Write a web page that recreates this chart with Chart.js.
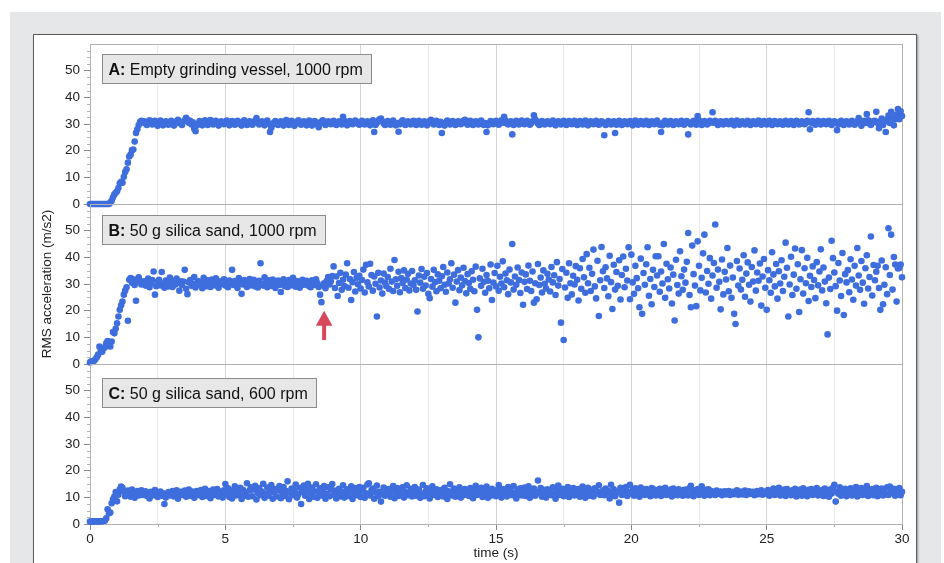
<!DOCTYPE html>
<html>
<head>
<meta charset="utf-8">
<script src="https://cdn.jsdelivr.net/npm/chart.js@4.4.1/dist/chart.umd.min.js"></script>
<style>
  html, body { margin: 0; padding: 0; background: #fff; width: 944px; height: 563px; overflow: hidden; }
  #backdrop { position: absolute; left: 10px; top: 12px; width: 931px; height: 560px; background: #e6e7e8; }
  #card { position: absolute; left: 33px; top: 34px; width: 882px; height: 540px; background: #fff;
          border: 1px solid #5c5c5c; box-shadow: 1px 1px 2px rgba(0,0,0,0.35); }
  canvas { position: absolute; left: 0; top: 0; }
</style>
</head>
<body>
<div id="backdrop"></div>
<div id="card"></div>
<canvas id="panelA" width="944" height="563"></canvas>
<canvas id="panelB" width="944" height="563"></canvas>
<canvas id="panelC" width="944" height="563"></canvas>
<script>
// Sampling rates (samples per second) of the three recordings
const rateA = 20;
const rateB = 20;
const rateC = 20;

// A: empty grinding vessel, 1000 rpm — RMS acceleration (m/s2), one row per second
const accelA = [
  0,0,0,0,0,0,0,0,0,0,0,0,0,0,0,0.5,1.2,2.5,3.6,4.2,
  4.8,6,7.8,8.3,8,10.2,12,13,15.5,17.8,18.5,20.2,20.4,23.4,26.6,28,29.6,30.8,31.2,30.6,
  31,30.2,29.6,30.8,31.4,30.4,29.8,30.9,31.2,30,29.3,30.5,31.3,30.7,29.5,30.2,31,30.6,29.7,30.4,
  31.2,30.5,29.4,30.1,31,31.6,30.8,30.2,29.6,30.9,31.4,32.3,31.6,30.5,31.2,29.8,30.6,28.2,27.3,29.4,
  30.2,31.1,30.4,29.5,30.8,31.4,30.1,29.6,30.7,31.5,30.6,29.8,30.3,31.2,30.5,29.4,30.2,31,30.6,29.9,
  30.7,31.3,30.2,29.5,30.4,31.1,30.6,29.7,30.3,31.2,30.8,29.9,29.4,30.6,31.4,30.3,29.6,30.5,31,30.2,
  29.7,30.5,31.2,32.2,30.6,29.8,30.3,31,30.4,29.5,30.8,31.3,30.1,27,28.6,29.8,30.5,31.1,30.2,29.6,
  30.4,31,30.3,29.4,30.7,31.5,30.2,29.6,30.5,31.2,30.4,29.3,30.1,30.9,31.4,30.5,29.7,30.3,31,30.2,
  29.5,30.6,31.3,30.2,29.4,30.5,31.1,30.6,29.8,28.8,30.2,30.9,31.4,30.5,29.6,30.3,31,30.7,29.9,30.4,
  31.2,30.5,29.6,30.3,31,30.4,29.8,32.7,31.2,30.4,29.5,30.2,31.1,30.6,29.9,30.5,31.3,30.8,30.1,29.7,
  30.4,31.2,30.6,29.8,30.3,31,30.2,29.5,30.7,31.4,27,29.6,30.5,31.3,31.8,32,31,30.2,29.6,30.5,
  31.1,30.4,29.7,30.6,31.3,30.2,29.5,30.4,27.1,29.9,30.8,31.4,30.5,29.6,30.2,31,30.7,29.8,30.4,31.2,
  30.3,29.6,30.5,31.2,30.6,29.7,30.3,31,30.4,29.5,30.2,31.1,31.6,30.5,29.8,30.4,31.2,30.3,29.6,30.8,
  26.6,30.2,29.4,30.5,31.3,30.6,29.8,30.3,31.1,30.5,29.6,30.2,31,30.7,29.9,30.4,31.2,31.6,30.4,29.7,
  30.5,31.2,30.4,29.6,30.3,31,30.6,29.8,30.2,31.3,30.5,29.6,30.4,27,29.5,30.3,31.1,30.6,29.9,30.5,
  31.2,30.3,29.7,30.6,31.4,30.5,32.7,31.3,30.2,29.8,30.4,31,26.1,29.6,30.5,31.2,30.3,29.8,30.6,31.3,
  30.5,29.9,30.4,31.2,30.6,29.7,30.3,31,33.3,31.8,30.9,30.2,29.6,30.5,31.1,30.4,29.8,30.3,31,30.6,
  29.9,30.5,31.3,30.2,29.5,30.4,31,30.7,29.8,30.3,31.2,30.5,29.6,30.2,31.1,30.6,29.9,30.4,31.2,30.3,
  29.6,30.5,31.1,30.4,29.8,30.6,31.3,30.2,29.5,30.4,31,30.6,29.9,30.3,31.2,30.5,29.7,30.2,31,30.6,
  25.8,29.6,30.4,31.1,30.5,29.8,30.3,31,26.6,29.7,30.5,31.2,30.4,29.6,30.2,31,30.7,29.9,30.4,31.1,
  30.3,29.5,30.6,31.3,30.4,29.7,30.3,31.1,30.6,29.8,30.4,31.2,30.5,29.6,30.2,31,30.7,29.9,30.5,31.3,
  30.4,29.7,27,29.5,30.6,31.2,30.3,29.8,30.5,31.1,30.4,29.6,30.3,31,30.6,29.9,30.2,31.2,30.5,29.7,
  30.4,31.1,26.1,30.3,29.8,30.6,31.2,30.4,29.7,33,31.4,30.2,29.6,30.5,31.1,30.3,29.8,30.4,31.2,30.6,
  34.4,30.5,31.2,30.3,29.6,30.4,31,30.5,29.8,30.3,31.1,30.6,29.9,30.4,31.2,30.2,29.5,30.6,31.3,30.4,
  29.7,30.3,31,30.6,29.8,30.4,31.2,30.5,29.6,30.2,31,30.7,29.9,30.5,31.3,30.4,29.7,30.3,31.1,30.6,
  29.8,30.5,31.2,30.3,29.6,30.4,31.1,30.6,29.9,30.3,31,30.5,29.7,30.2,31.2,30.6,29.8,30.4,31.1,30.3,
  29.6,30.5,31.2,30.4,29.8,30.3,31,30.6,29.9,30.4,31.2,34.4,28,30.5,31.1,30.3,29.7,30.5,31.2,30.4,
  29.8,30.3,31.1,30.6,29.9,30.4,31.2,30.5,29.6,30.3,31,30.7,27.7,29.8,30.5,31.2,30.4,29.6,30.3,31,
  30.6,29.8,30.4,31.2,30.5,29.7,30.3,31,32.2,30.6,29.3,30.5,31.2,30.4,33.7,31.4,30.2,29.6,30.5,31.1,
  31.2,34.6,30.4,28.4,31,32,29.6,30.8,27,31.6,33.2,30.4,34.6,32.4,29.5,31.8,33.5,35.6,31.8,34.8,
  33
];

// B: 50 g silica sand, 1000 rpm
const accelB = [
  0.6,1,0.8,1.2,1.8,2.5,3.5,6.5,5.2,4.6,5.8,6.3,7.8,8.6,7.1,6.6,8.4,12,11.5,13.2,
  15.3,17.8,20.3,22,23.4,26,27.5,28.8,16.2,31.6,32.2,30.5,31.8,29.6,23.7,30.8,32.5,31.2,29.8,30.5,
  31,29.4,30.6,32,28.8,30.3,31.5,34.7,26,29.2,30.8,31.6,29.5,34.5,30.2,28.6,31.3,30,29.1,32.4,
  30.5,28.9,31.2,29.8,32,30.4,27.5,31,29.6,30.9,35.3,28.2,26.2,30.7,31.5,29.3,30.1,32.6,28.7,30.4,
  31.1,29.7,30.5,28.4,32.3,30.8,29.2,31.4,30,28.9,31.7,30.3,29.5,32.1,30.6,28.6,31,29.9,30.7,31.8,
  29.4,30.9,28.8,31.3,30.2,35.3,29.6,31.1,30,28.5,32.2,30.7,26.3,29.8,31.5,30.4,28.9,30.6,31.9,29.5,
  30.3,31.6,29.1,30.8,28.7,31.2,37.8,30.1,29.4,32.5,30.6,28.8,31.4,30,29.3,31.7,30.5,28.5,30.9,31.3,
  29.6,27,30.4,31.8,29.2,30.7,28.9,31.5,30.2,29.5,32.3,30.8,29,31.1,30.3,28.6,30.9,31.6,29.7,30.4,
  31.2,29.4,30.6,28.8,31.4,30.1,29.6,31.8,30.4,28.9,26,23.2,29.5,30.3,28.4,31.2,32.6,29.8,31,33,
  36.6,28.5,32.8,25.5,30.4,34.2,27.8,31.6,29.2,33.5,37.8,28.6,31.9,24,30.7,34.5,27.2,32.3,29.9,33.1,
  28.3,31.5,35.4,26.8,37.2,30.6,29.1,37.6,33.4,27.5,32.8,30.1,17.8,34.2,28.7,31.3,26.4,33.9,30.5,29.2,
  32.6,28.1,35.7,30.9,27.4,39,31.8,29.3,34.6,26.9,32.2,30.4,35.1,28.5,31.7,33.8,27.6,30.2,34.9,29.6,
  31.4,27.8,19.7,33.2,30.5,35.6,28.2,32.7,29.4,34.1,26.3,24.7,31.9,29,35.3,30.7,27.3,33.6,31.2,28.4,
  32.9,36.4,29.7,27.1,34.3,30.2,31.8,37.8,28.6,33.5,23,30.9,35.2,27.7,32.4,29.5,36.1,31.1,26.5,33.7,
  30.4,28.2,34.8,31.6,27.3,36.5,20.3,10,32.1,29.3,35.7,30.8,26.7,33.4,31.2,28.4,37.3,24,30.5,34.1,
  29.1,36.8,27.5,32.7,30.2,38.5,28.8,33.9,31.4,26.2,35.4,30.6,45,27.9,32.8,29.7,36.2,31.5,26.6,34.3,
  22.2,30.8,33.6,28.1,36.9,31.2,27.4,34.7,23,30.3,24.3,37.5,29.6,32.4,26.8,35.1,30.1,28.3,33.8,31.7,
  27.2,36.4,30.6,33.3,25.9,38.2,29.4,31.9,15.5,35.6,9,28.7,34.2,24.8,37.8,30.3,26.1,33.1,29.8,36.7,
  31.6,23.8,35.9,28.2,39.4,32.5,26.7,41.2,30.3,36.1,27.4,33.8,42.9,29.1,24.6,38.7,18,31.4,43.9,34.8,
  28.5,36.3,32.1,25.4,40.6,30.7,20.6,37.2,27.9,34.5,29.3,38.9,24.2,33.4,40.3,28.8,35.7,31.3,43.8,24.3,
  41,30.6,26.3,36.8,32.2,28.4,21.3,39.5,18.8,34.1,29.7,37.4,43.8,25.6,31.9,22.4,35.3,28.9,40.4,33.2,
  40.4,27.1,34.7,30.2,45,24.8,37.6,31.8,28.3,36.2,22.7,33.5,16.3,39.1,29.6,26.4,42.3,32.9,27.8,35.4,
  30.5,38.3,49.1,25.9,21.3,44.4,33.7,29.4,21.7,46,36.8,27.6,32.3,41.5,48.5,26.8,34.9,30.1,39.7,24.5,
  33.2,37.9,52.3,28.6,35.4,30.8,20.5,39.2,26.1,34.6,31.7,43.5,27.3,36.9,24.8,32.4,18.8,15,38.6,29.4,
  35.8,27.9,31.6,40.8,25.2,33.9,38.1,29.7,23.4,36.4,30.9,42.6,27.5,34.3,31.2,37.7,21.9,32.8,39.4,28.6,
  20.3,35.2,31.4,26.7,41.9,33.6,29.1,37.5,24.5,34.8,30.2,38.9,27.4,32.7,45.5,36.1,17.8,29.8,40.2,25.9,
  33.5,43.3,28.2,37.4,19.5,31.8,42.7,26.4,35.9,30.3,39.8,23.6,33.1,28.9,36.6,31.5,24.7,38.2,29.5,34.7,
  43,27.6,36.2,30.9,22.8,11.1,32.4,28.1,46.2,39.7,34.3,29.2,20,37.9,31.3,25.5,41.6,18.4,33.7,30.6,
  35.2,26.9,39.3,31.7,24.1,36.8,29.4,43.5,33.2,27.8,38.6,30.5,22.6,35.9,40.8,28.3,32.6,47.8,25.7,37.1,
  31.4,34.6,36.8,28.5,20.3,38.8,22.4,29.7,36.3,26.2,50.9,33.4,48.5,27.9,40.1,37.3,23.4,35.8,36,37.3,
  32.5
];

// C: 50 g silica sand, 600 rpm
const accelC = [
  0.9,0.9,1,0.9,1,1,0.9,1,1,1,1.1,1.2,2.1,5.5,4,4.3,7.8,9.3,10.3,12,
  8.5,11,13,14,13.6,12.2,10.4,11.8,12.5,11.1,10.2,12.9,11.5,9.8,11.9,12.4,10.7,11.3,12.6,10.9,
  11.6,12.3,10.5,11.8,9.6,12.1,11.2,10.8,12.7,11.4,10.1,11.9,12.2,10.6,11.5,7.5,9.9,11.3,12,10.7,
  11.8,12.4,10.3,11.1,12.6,9.5,11.7,12.1,10.9,11.4,12.5,10.2,11.8,12.9,10.6,11.3,12.2,9.8,11.6,12.4,
  10.8,11.5,12.7,10.1,11.9,13.2,10.5,11.2,12.4,9.7,11.8,12.9,10.9,11.4,13.1,10.3,12.2,11.1,9.9,12.6,
  15,11.2,13.4,10.1,12.5,9.6,11.8,14.1,10.7,12.3,11,13.6,9.4,12.8,10.5,11.9,15.3,10.2,12.6,13.8,
  10.4,12.9,14.3,9.2,11.6,13.5,10.8,12.2,15.1,9.8,11.4,13.7,10.6,12.5,14.6,9.5,11.9,13.1,10.3,12.7,
  14.2,9.7,11.8,13.9,10.5,12.4,16,9.3,11.6,13.3,10.8,12.7,14.8,9.9,11.2,13.6,7.5,12.1,14.4,10.6,
  12.8,15.1,9.4,11.5,13.7,10.2,12.3,14.9,9.8,11.9,13.4,10.7,12.6,14.2,9.5,11.3,13.8,10.4,12.9,15,
  10.9,12.5,9.6,11.8,13.2,10.3,12.1,14.5,9.9,11.6,13,10.5,12.7,14.1,9.4,11.4,13.5,10.8,12.2,13.9,
  10.1,12.4,13.6,9.8,11.5,14.8,15.3,10.7,12.6,13.3,9.5,11.9,14.4,10.4,12.1,8.4,11.2,13.7,10.6,12.8,
  11.5,13.1,10.2,12.3,14.2,9.7,11.8,13.5,10.5,12.6,11.1,13.8,9.9,12,14.5,10.8,11.6,13.2,10.3,12.4,
  13.9,10.6,11.7,12.9,9.8,11.3,14.6,10.4,12.2,13.4,11,9.6,12.7,14.1,10.9,11.8,13,10.1,12.5,11.4,
  12.8,10.3,13.6,11.5,9.4,12.3,14.9,10.7,11.9,13.3,10.2,12.6,11.1,13.8,9.9,12.1,10.8,13.1,11.6,12.4,
  10.5,13.5,11.8,9.7,12.9,14.3,10.9,12.2,11.3,13.6,10.1,12.7,11.5,14,9.8,12.4,10.6,13.2,11.9,12.1,
  10.4,12.8,14.6,11.1,9.9,13.1,11.7,12.5,10.3,13.9,11.4,12.2,10.8,14.2,11.6,9.6,12.9,11,13.4,10.7,
  12.3,13.7,10.5,11.9,14.1,9.8,12.6,11.2,13.3,10.6,12.1,16.3,11.5,13.5,10.2,12.8,11.1,9.9,13,11.7,
  12.4,10.8,13.8,11.3,9.5,12.7,14.4,10.9,11.8,13.2,10.4,12.5,11.6,13.9,10.1,12.2,11,13.5,10.7,12.9,
  11.4,13.1,10.2,12.6,14,11.1,9.8,12.3,13.6,10.6,11.9,12.8,10.3,13.4,11.5,12.1,14.5,10.9,11.7,12.5,
  10.8,13.3,11.6,12.4,9.6,14.7,11.2,13,10.4,12.2,11.8,8,13.6,10.9,12.7,11.3,13.9,10.5,12,14.7,
  11.5,12.8,10.6,13.4,11.9,12.3,10.2,13.7,11.4,12.6,10.9,13.1,11.7,12.2,10.4,13.5,11.1,12.9,10.7,12.4,
  11.8,13.2,10.5,12.7,11.3,13.6,10.9,12.1,11.6,12.9,10.3,13.3,11.5,12.4,10.8,13,11.9,12.3,10.6,12.8,
  11.2,12.9,10.7,13.4,14.3,11.8,10.4,12.6,11.5,13.1,10.9,12.2,14.1,11.3,10.6,12.8,11.7,13,10.8,12.4,
  11.4,12.1,10.9,12.5,11.8,11.3,12.2,10.8,11.9,12.3,11.1,11.6,12.4,10.9,11.7,12.1,11.2,11.5,12.6,11,
  11.8,12.2,11.1,11.6,12.5,10.9,11.7,12.3,11.3,11.9,12.1,10.8,11.5,12.4,11.2,11.8,12.6,11,11.6,12.2,
  11.3,12.7,10.6,12.1,11.5,13.3,10.9,12.4,11.8,13.6,10.7,12.2,11.1,12.9,10.5,13.1,11.6,12.3,10.8,12.6,
  11.4,13.2,10.3,12.5,11.7,12.9,10.6,13.4,11.2,12,10.4,12.8,11.5,13.1,10.9,12.3,11.8,13.5,10.7,12.2,
  11.1,12.7,10.5,13.3,11.6,12.2,10.2,12.9,11.4,13.6,14.7,8.4,12.1,11.3,13.8,10.6,12.5,11.9,13.2,10.4,
  12.6,11.2,13.4,10.7,12.3,11.5,13.9,10.3,12.8,11.1,13.5,10.9,12.4,11.7,14.2,10.5,12.7,11.3,13.1,10.8,
  12.2,13.6,10.4,12.9,11.6,13.3,10.7,12.5,11.2,13.8,10.9,14,12.3,11.5,13.2,10.6,12.8,11.9,13.5,10.8,
  12.1
];

// Axis ticks
const timeTicks = [0, 2.5, 5, 7.5, 10, 12.5, 15, 17.5, 20, 22.5, 25, 27.5, 30];
const accelTicks = [0, 10, 20, 30, 40, 50];

// Panel captions
const panelTags = ['A:', 'B:', 'C:'];
const panelTitles = ['Empty grinding vessel, 1000 rpm', '50 g silica sand, 1000 rpm', '50 g silica sand, 600 rpm'];

// Red arrow in panel B: time (s) and acceleration range it spans
const arrowTime = 8.65, arrowTip = 20, arrowTail = 9;

// ---- layout ----
const W = 944, H = 563;
const PLOT_LEFT = 90, PLOT_RIGHT = 902;
const PANEL_TOPS = [44, 204, 364], PANEL_H = 160;
const CAPTION_OFFSETS = [10, 11, 14];
const DOT = 'rgb(62,110,221)';
const FONT = '"Liberation Sans", Arial, Helvetica, sans-serif';

Chart.defaults.font.family = FONT;
Chart.defaults.font.size = 13.5;
Chart.defaults.color = '#222';

const panelDecor = {
  id: 'panelDecor',
  beforeDatasetsDraw(chart, args, opts) {
    const { ctx, chartArea: a, scales: { x, y } } = chart;
    ctx.save();
    // minor ticks on the acceleration axis
    ctx.strokeStyle = '#b4b4b4';
    ctx.lineWidth = 1;
    ctx.beginPath();
    for (let v = 2.5; v < 60; v += 2.5) {
      if (v % 10 === 0) continue;
      const py = Math.round(y.getPixelForValue(v)) + 0.5;
      ctx.moveTo(a.left - 3, py);
      ctx.lineTo(a.left, py);
    }
    // minor ticks under the time axis
    if (opts.bottom) {
      timeTicks.filter(t => t % 5 !== 0).forEach(t => {
        const px = Math.round(x.getPixelForValue(t)) + 0.5;
        ctx.moveTo(px, a.bottom);
        ctx.lineTo(px, a.bottom + 3);
      });
    }
    ctx.stroke();
    // plot frame
    ctx.strokeStyle = '#b3b3b3';
    ctx.strokeRect(Math.round(a.left) + 0.5, Math.round(a.top) + 0.5,
                   Math.round(a.right - a.left), Math.round(a.bottom - a.top));
    ctx.restore();
  },
  afterDatasetsDraw(chart, args, opts) {
    const { ctx, scales: { x, y } } = chart;
    const i = opts.index;
    ctx.save();
    // caption box
    const bx = 102, by = PANEL_TOPS[i] + CAPTION_OFFSETS[i], bh = 29;
    ctx.font = 'bold 16px ' + FONT;
    const wTag = ctx.measureText(panelTags[i] + ' ').width;
    ctx.font = '16px ' + FONT;
    const wTitle = ctx.measureText(panelTitles[i]).width;
    const bw = Math.round(6.5 + wTag + wTitle + 8.5);
    ctx.fillStyle = '#e7e7e7';
    ctx.fillRect(bx, by, bw, bh);
    ctx.strokeStyle = '#8c8c8c';
    ctx.lineWidth = 1;
    ctx.strokeRect(bx + 0.5, by + 0.5, bw, bh);
    ctx.fillStyle = '#111';
    ctx.textBaseline = 'alphabetic';
    ctx.textAlign = 'left';
    ctx.font = 'bold 16px ' + FONT;
    ctx.fillText(panelTags[i], bx + 6.5, by + 21);
    ctx.font = '16px ' + FONT;
    ctx.fillText(panelTitles[i], bx + 6.5 + wTag, by + 21);
    // arrow marking the onset of the grinding regime
    if (opts.arrow) {
      const px = x.getPixelForValue(arrowTime);
      const yt = y.getPixelForValue(arrowTip);
      const yb = y.getPixelForValue(arrowTail);
      ctx.fillStyle = '#d9475b';
      ctx.beginPath();
      ctx.moveTo(px, yt);
      ctx.lineTo(px + 8.3, yt + 15);
      ctx.lineTo(px - 8.3, yt + 15);
      ctx.closePath();
      ctx.fill();
      ctx.fillRect(px - 2, yt + 14, 4, yb - yt - 14);
    }
    ctx.restore();
  }
};

function buildPanel(canvasId, index, values, rate) {
  const top = PANEL_TOPS[index];
  const bottom = index === 2;
  const points = values.map((v, k) => ({ x: k / rate, y: v }));
  return new Chart(document.getElementById(canvasId), {
    type: 'scatter',
    data: {
      datasets: [{
        data: points,
        backgroundColor: DOT,
        borderWidth: 0,
        pointRadius: 3.3,
        pointHoverRadius: 3.3,
        clip: false
      }]
    },
    options: {
      responsive: false,
      animation: false,
      devicePixelRatio: 1,
      events: [],
      layout: { padding: { left: 0, right: W - PLOT_RIGHT, top: top, bottom: bottom ? 0 : H - top - PANEL_H } },
      plugins: {
        legend: { display: false },
        tooltip: { enabled: false },
        panelDecor: { index: index, bottom: bottom, arrow: index === 1 }
      },
      scales: {
        x: {
          type: 'linear',
          min: 0, max: 30,
          afterBuildTicks: s => { s.ticks = timeTicks.map(v => ({ value: v })); },
          afterFit: s => { s.height = bottom ? H - (top + PANEL_H) : 0; },
          border: { display: false },
          grid: {
            color: c => (c.tick && c.tick.value % 5 === 0) ? '#d4d4d4' : '#ebebeb',
            lineWidth: 1,
            drawTicks: bottom,
            tickLength: 6,
            tickColor: c => (c.tick && c.tick.value % 5 === 0) ? '#8a8a8a' : 'rgba(0,0,0,0)'
          },
          ticks: {
            display: bottom,
            autoSkip: false,
            maxRotation: 0,
            padding: 1,
            color: '#222',
            callback: v => (v % 5 === 0 ? String(v) : '')
          },
          title: { display: bottom, text: 'time (s)', color: '#222', padding: { top: 0, bottom: 2 } }
        },
        y: {
          min: 0, max: 60,
          afterBuildTicks: s => { s.ticks = accelTicks.map(v => ({ value: v })); },
          afterFit: s => { s.width = PLOT_LEFT; },
          border: { display: false },
          grid: { drawOnChartArea: false, drawTicks: true, tickLength: 6, tickColor: '#8a8a8a' },
          ticks: { padding: 4, color: '#222' },
          title: { display: index === 1, text: 'RMS acceleration (m/s2)', color: '#222', padding: { top: 39, bottom: 0 } }
        }
      }
    },
    plugins: [panelDecor]
  });
}

buildPanel('panelA', 0, accelA, rateA);
buildPanel('panelB', 1, accelB, rateB);
buildPanel('panelC', 2, accelC, rateC);
</script>
</body>
</html>
